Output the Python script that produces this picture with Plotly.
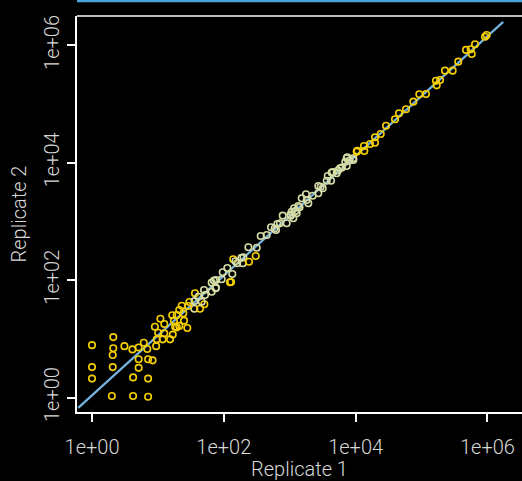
import numpy as np
import plotly.graph_objects as go

# Replicate counts
rep1 = [1, 2.1, 2.1, 2.06, 1, 2.06, 1, 2, 4.2, 7.1, 4.2, 7.1, 5.1, 5.1, 7.1, 8.3, 3.1, 4.1, 5.1, 6.1,
        6.9, 9.0, 10.9, 10.1, 9.4, 12.5, 12.5, 11.8, 15.3, 16.8, 16.5, 18.2, 21.1, 24.9, 27.9, 23, 35.7,
        43.5, 50.6, 46.2, 28.9, 19.3, 17.5, 24.3, 21.1, 9.6, 19.3, 30, 36.5, 51.9, 50, 65.5, 75.3, 65.5,
        76.2, 96.2, 92.9, 113, 124,
        71, 76.2, 134.5, 128.6, 139, 194, 160, 198, 236, 241, 305, 316, 363, 448, 520, 620, 649, 783,
        900, 1072, 1162, 1276, 1135, 1349, 1520, 1811, 1767, 1916, 2233, 2716, 2716, 3170, 3645, 4240,
        3775, 4487, 5160, 5800, 6976, 7330, 7480, 9230, 10400, 13560,
        4335, 7330, 9230, 10620, 13400, 16540, 19700, 19700, 24030, 28930, 39600, 45600, 58200, 75200,
        92700, 117000, 166000, 170000, 191000, 227000, 297000, 361000, 473000, 578000, 557000, 649000,
        920000, 975000,
        1020, 1210, 1410, 1040, 5400, 6200, 8100, 2950, 590, 710, 150, 185, 36, 41]
rep2 = [7.8, 10.7, 6.9, 5.3, 3.3, 3.3, 2.1, 1.06, 1.06, 1.03, 2.2, 2.1, 3.2, 4.5, 4.5, 4.3, 7.5, 6.6, 7.1, 8.6,
        6.7, 16.1, 22, 12.7, 7.5, 17.9, 12.4, 9.8, 9.8, 11.8, 25.2, 16.1, 16.6, 20.4, 15.3, 36.7, 32.6,
        32.6, 38.8, 42.9, 36.3, 25.5, 20.4, 27.2, 31, 9.8, 15.7, 42.4, 59.7, 55.9, 68, 90.6, 72.7, 63.6,
        100.6, 136, 103.4, 161, 92,
        98, 74.3, 127, 93, 227, 194, 194, 245, 363, 206, 258, 357, 566, 589, 796, 716, 906, 1256,
        931, 1469, 1679, 1380, 1133, 1837, 2485, 2324, 2904, 2043, 2752, 3020, 4027, 3679, 4958, 4958,
        5957, 6979, 6626, 8073, 10450, 8830, 12420, 11940, 15490, 15920,
        6792, 11940, 11170, 16080, 19360, 20940, 22030, 27220, 30990, 42930, 55200, 69800, 81700, 110200,
        147200, 149000, 251000, 209000, 258000, 372000, 372000, 530000, 840000, 716000, 861000, 1047000,
        1410000, 1510000,
        1300, 1500, 1750, 1250, 7400, 8300, 10900, 3900, 760, 930, 210, 240, 44, 52]

# Fitted line on log10 scale and its extent
fit_slope = 1.02
fit_intercept = 0.037
fit_span_log = [-0.21, 6.24]

tick_vals = [1, 1e2, 1e4, 1e6]
tick_text = ["1e+00", "1e+02", "1e+04", "1e+06"]

lx = np.log10(rep1)
ly = np.log10(rep2)
resid = np.abs(ly - (fit_intercept + fit_slope * lx))
colors = ["#d6dca6" if (r < 0.12 and 1.5 <= x <= 4.0) else "#f5cf00" for r, x in zip(resid, lx)]

fl = np.array(fit_span_log)
line_x = 10 ** fl
line_y = 10 ** (fit_intercept + fit_slope * fl)

fig = go.Figure()
fig.add_trace(go.Scatter(x=line_x, y=line_y, mode="lines",
                         line=dict(color="#76b4e0", width=2.2), hoverinfo="skip", showlegend=False))
fig.add_trace(go.Scatter(x=rep1, y=rep2, mode="markers",
                         marker=dict(symbol="circle-open", size=6.5, color=colors,
                                     line=dict(width=1.6, color=colors)),
                         showlegend=False))

font = dict(family="Roboto, Lato, sans-serif", size=20, color="#d8d8d8", weight=300)
axis_common = dict(type="log", showgrid=False, zeroline=False, showline=True, linecolor="white",
                   linewidth=1.5, ticks="outside", ticklen=8, tickwidth=1.5, tickcolor="white",
                   tickvals=tick_vals, ticktext=tick_text, tickfont=font, automargin=False)

fig.update_layout(
    width=522, height=481,
    margin=dict(l=77, r=0, t=16, b=69),
    paper_bgcolor="black", plot_bgcolor="black",
    font=font,
    xaxis=dict(range=[-0.228, 6.525], title=dict(text="Replicate 1", font=font, standoff=8),
               ticklabelstandoff=8, **axis_common),
    yaxis=dict(range=[-0.247, 6.502], title=dict(text="Replicate 2", font=font, standoff=8),
               tickangle=-90, ticklabelstandoff=0, **axis_common),
    shapes=[
        dict(type="line", xref="paper", yref="paper", x0=0, x1=1.02, y0=1, y1=1,
             line=dict(color="white", width=1.5)),
        dict(type="line", xref="paper", yref="paper", x0=0, x1=1.02, y0=1.038, y1=1.038,
             line=dict(color="#4ea4dc", width=2.5)),
    ],
)

fig.write_html("out.html", config={"displayModeBar": False},
               post_script="document.body.style.margin='0';document.body.style.background='black';")
